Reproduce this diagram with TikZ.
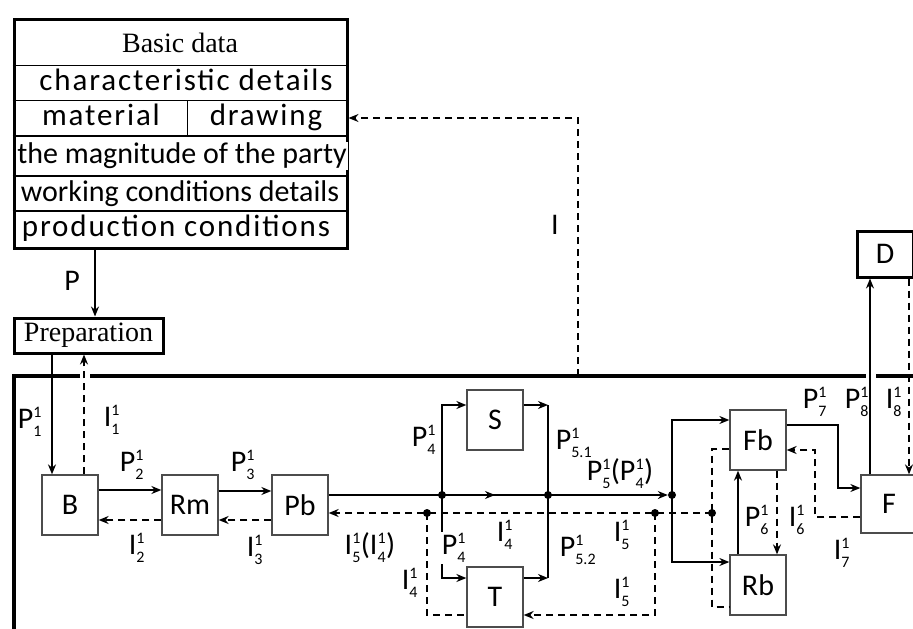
\documentclass[tikz,border=0pt]{standalone}
\usepackage{fontspec}
\usepackage{amsmath}
\setmainfont{Carlito}
\newfontfamily\serifface{Liberation Serif}
\newfontfamily\spacedface[LetterSpace=6]{Carlito}
\usetikzlibrary{arrows.meta,decorations.markings}

\newcommand{\idx}[1]{\text{\fontsize{16}{16}\selectfont #1}}
\newcommand{\lbl}[3]{#1$^{\raisebox{2pt}{\idx{#2}}}_{\raisebox{-2pt}{\idx{#3}}}$}

\tikzset{
  unit/.style={draw=black!70, line width=1.3pt, minimum width=56pt, minimum height=60pt,
    inner sep=0pt, font=\fontsize{30}{34}\selectfont},
  heavy/.style={draw=black, line width=3pt, inner sep=0pt},
  row/.style={inner sep=0pt, text height=21pt, text depth=7pt, font=\fontsize{30}{34}\selectfont},
  spacedrow/.style={row, font=\spacedface\fontsize{31}{34}\selectfont},
  titled/.style={inner sep=0pt, font=\serifface\fontsize{28}{32}\selectfont},
  lab/.style={inner sep=1pt, font=\fontsize{30}{34}\selectfont},
  flow/.style={line width=1.3pt},
  arr/.style={->, line width=1.3pt},
  dashline/.style={line width=1.3pt, dash pattern=on 7pt off 5pt},
  info/.style={->, line width=1.3pt, dash pattern=on 7pt off 5pt},
  midarrow/.style={postaction={decorate}, decoration={markings,
    mark=at position 0.5 with {\arrow{>}}}},
  dot/.style={circle, fill, inner sep=0pt, minimum size=8pt},
  frameline/.style={line width=3.5pt}
}

\begin{document}
\begin{tikzpicture}[x=1pt, y=-1pt, >={Stealth[length=10pt,width=8pt]}]
  \useasboundingbox (0,0) rectangle (913,629);
  % basic data block
  \node[heavy, minimum width=333pt, minimum height=229pt] (data) at (180.5,133.5) {};
  \foreach \y in {65,100} \draw[line width=1pt] (data.west |- 0,\y) -- (data.east |- 0,\y);
  \foreach \y in {136,211} \draw[line width=1.8pt] (data.west |- 0,\y) -- (data.east |- 0,\y);
  \draw[line width=2.5pt] (data.west |- 0,176) -- (data.east |- 0,176);
  \draw[line width=1pt] (187,100) -- (187,136);
  \node[titled] (basic) at (180,43) {Basic data};
  \node[spacedrow] (charact) at (186,83) {characteristic details};
  \node[spacedrow] (material) at (101,118) {material};
  \node[spacedrow] (drawing) at (266,118) {drawing};
  \node[row, fill=white, inner xsep=1pt] (magnitude) at (182,156) {the magnitude of the party};
  \node[row] (working) at (180,194) {working conditions details};
  \node[spacedrow] (production) at (176,229) {production conditions};
  \node[heavy, titled, minimum width=149pt, minimum height=35pt] (prep) at (88.5,335.5) {Preparation};
  % enterprise frame
  \draw[frameline] (14,629) -- (14,376) -- (80,376);
  \draw[frameline] (90,376) -- (866,376);
  \draw[frameline] (876,376) -- (913,376);
  % units
  \node[unit] (B) at (70,505) {B};
  \node[unit] (Rm) at (190,505) {Rm};
  \node[unit] (Pb) at (300,505) {Pb};
  \node[unit] (S) at (495,420) {S};
  \node[unit] (T) at (495,597) {T};
  \node[unit] (Fb) at (758,440) {Fb};
  \node[unit] (Rb) at (758,585) {Rb};
  \node[unit, minimum height=58pt] (F) at (889,504) {F};
  \node[unit, heavy, minimum height=46pt] (D) at (885,254) {D};
  % junctions
  \node[dot] (j1) at (442,495) {};
  \node[dot] (j2) at (548,495) {};
  \node[dot] (j3) at (672,495) {};
  \node[dot] (d1) at (427,513) {};
  \node[dot] (d2) at (655,513) {};
  \node[dot] (d3) at (712,513) {};
  \coordinate (s1) at (548,405);
  \coordinate (t1) at (548,578);
  \coordinate (top) at (578,376);
  % material flow
  \draw[arr] (data.south -| 95,0) -- (prep.north -| 95,0);
  \draw[arr] (prep.south -| 52,0) -- (B.north -| 52,0);
  \draw[arr] (B.east |- 0,490) -- (Rm.west |- 0,490);
  \draw[arr] (Rm.east |- 0,491) -- (Pb.west |- 0,491);
  \draw[flow] (Pb.east |- j1) -- (j1.center);
  \draw[flow, midarrow] (j1.center) -- (j2.center);
  \draw[arr] (j2.center) -- (j3);
  \draw[arr] (j1.center) |- (S.west |- s1);
  \draw[arr] (S.east |- s1) -- (s1);
  \draw[flow] (s1) -- (j2.center);
  \draw[arr] (j1.center) |- (T.west |- t1);
  \draw[arr] (T.east |- t1) -- (t1);
  \draw[flow] (t1) -- (j2.center);
  \draw[arr] (j3.center) |- (Fb.west |- 0,420);
  \draw[arr] (j3.center) |- (Rb.west |- 0,562);
  \draw[arr] (Rb.north -| 738,0) -- (Fb.south -| 738,0);
  \draw[arr] (Fb.east |- 0,425) -| (838,488) -- (F.west |- 0,488);
  \draw[arr] (F.north -| 870,0) -- (D.south -| 870,0);
  % information flow
  \draw[info] (top) |- (data.east |- 0,118);
  \draw[info] (B.north -| 84,0) -- (prep.south -| 84,0);
  \draw[info] (Rm.west |- 0,520) -- (B.east |- 0,520);
  \draw[info] (Pb.west |- 0,520) -- (Rm.east |- 0,520);
  \draw[info] (d3.center) -- (d2.center) -- (d1.center) -- (Pb.east |- d1);
  \draw[dashline] (d1.center) -- (d1 |- 0,615) -- (T.west |- 0,615);
  \draw[info] (d2.center) |- (T.east |- 0,615);
  \draw[dashline] (Fb.west |- 0,449) -| (d3.center) |- (Rb.west |- 0,607);
  \draw[info] (Fb.south -| 777,0) -- (Rb.north -| 777,0);
  \draw[info] (F.west |- 0,517) -| (815,450) -- (Fb.east |- 0,450);
  \draw[info] (D.south -| 909,0) -- (F.north -| 909,0);
  % labels
  \node[lab] (lI) at (555,225) {I};
  \node[lab] (lP) at (72,281) {P};
  \node[lab] (lP1) at (30,422) {\lbl{P}{1}{1}};
  \node[lab] (lI1) at (112,420) {\lbl{I}{1}{1}};
  \node[lab] (lP2) at (132,465) {\lbl{P}{1}{2}};
  \node[lab] (lI2) at (137,548) {\lbl{I}{1}{2}};
  \node[lab] (lP3) at (243,465) {\lbl{P}{1}{3}};
  \node[lab] (lI3) at (255,550) {\lbl{I}{1}{3}};
  \node[lab] (lP4a) at (424,440) {\lbl{P}{1}{4}};
  \node[lab] (lP51) at (574,443) {\lbl{P}{1}{5.1}};
  \node[lab] (lP5) at (620,474) {\lbl{P}{1}{5}(\lbl{P}{1}{4})};
  \node[lab] (lI5a) at (370,548) {\lbl{I}{1}{5}(\lbl{I}{1}{4})};
  \node[lab, fill=white] (lP4b) at (454,548) {\lbl{P}{1}{4}};
  \node[lab] (lI4a) at (505,535) {\lbl{I}{1}{4}};
  \node[lab] (lP52) at (578,550) {\lbl{P}{1}{5.2}};
  \node[lab] (lI5b) at (622,535) {\lbl{I}{1}{5}};
  \node[lab] (lI4b) at (410,583) {\lbl{I}{1}{4}};
  \node[lab] (lI5c) at (622,592) {\lbl{I}{1}{5}};
  \node[lab] (lP7) at (815,402) {\lbl{P}{1}{7}};
  \node[lab] (lP8) at (857,402) {\lbl{P}{1}{8}};
  \node[lab] (lI8) at (894,402) {\lbl{I}{1}{8}};
  \node[lab] (lP6) at (757,520) {\lbl{P}{1}{6}};
  \node[lab] (lI6) at (797,520) {\lbl{I}{1}{6}};
  \node[lab] (lI7) at (842,553) {\lbl{I}{1}{7}};
\end{tikzpicture}
\end{document}
